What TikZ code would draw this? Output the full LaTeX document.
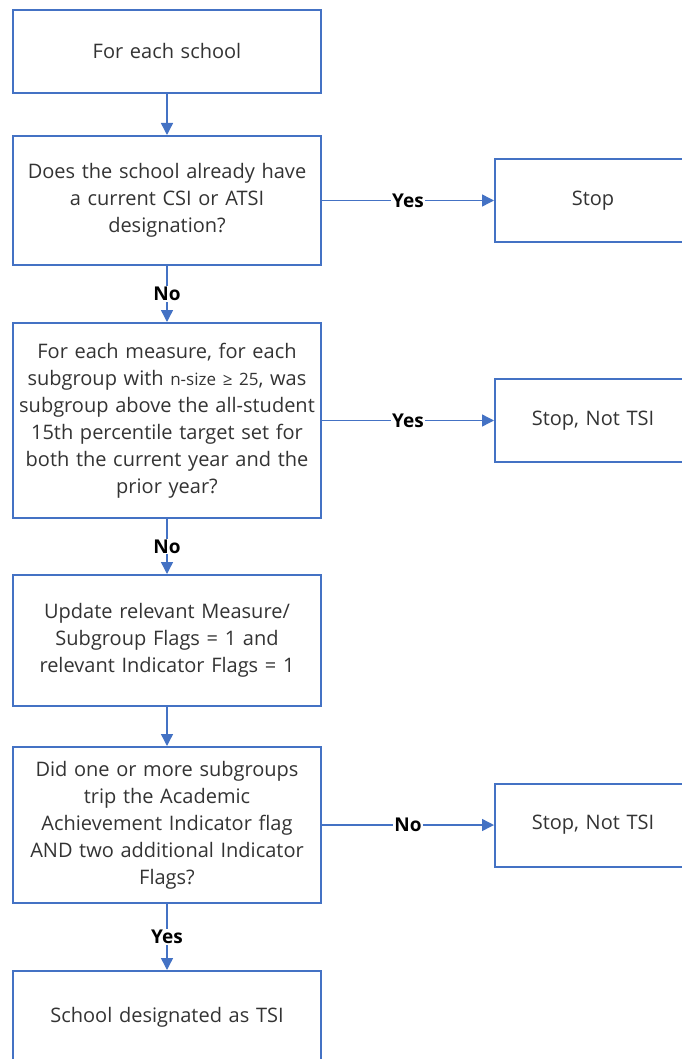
\documentclass[tikz,border=0pt]{standalone}
\usepackage{fontspec}
\setmainfont{Open Sans}
\usepackage{xcolor}
\usetikzlibrary{positioning,arrows.meta}
\definecolor{flowblue}{HTML}{4472C4}
\definecolor{flowtext}{HTML}{333333}

\begin{document}
\begin{tikzpicture}[
    x=1pt, y=-1pt,
    every node/.style={align=center},
    stepbox/.style={rectangle, draw=flowblue, line width=2pt, text=flowtext, inner sep=1pt, minimum width=308pt, text width=304pt, font=\fontsize{20}{27}\selectfont},
    stopbox/.style={rectangle, draw=flowblue, line width=2pt, text=flowtext, inner sep=1pt, minimum width=196pt, text width=190pt, minimum height=83pt, font=\fontsize{20}{27}\selectfont},
    arrow/.style={-{Triangle[length=12pt, width=12pt]}, line width=1.4pt, color=flowblue},
    choice/.style={fill=white, inner sep=1pt, text=black, font=\fontsize{19}{22}\selectfont\bfseries}
]
\useasboundingbox (0,0) rectangle (681,1059);

% Main column
\node[stepbox, minimum height=83pt] (start) at (167,51.5) {For each school};
\node[stepbox, minimum height=129pt, below=41pt of start] (current) {Does the school already have\\a current CSI or ATSI\\designation?};
\node[stepbox, minimum height=195pt, below=56pt of current] (measure) {For each measure, for each\\subgroup with {\fontsize{17}{27}\selectfont n-size ≥ 25}, was\\subgroup above the all-student\\15th percentile target set for\\both the current year and the\\prior year?};
\node[stepbox, minimum height=131pt, below=55pt of measure] (update) {Update relevant Measure/\\Subgroup Flags = 1 and\\relevant Indicator Flags = 1};
\node[stepbox, minimum height=156pt, below=39pt of update] (trip) {Did one or more subgroups\\trip the Academic\\Achievement Indicator flag\\AND two additional Indicator\\Flags?};
\node[stepbox, minimum height=92pt, below=66pt of trip] (tsi) {School designated as TSI};

% Stop boxes
\node[stopbox, right=172pt of current] (stop) {Stop};
\node[stopbox, right=172pt of measure] (nottsi) {Stop, Not TSI};
\node[stopbox, right=172pt of trip] (nottsitwo) {Stop, Not TSI};

% Arrows
\draw[arrow] (start) -- (current);
\draw[arrow] (current) -- (measure) node[midway, choice] {No};
\draw[arrow] (measure) -- (update) node[midway, choice] {No};
\draw[arrow] (update) -- (trip);
\draw[arrow] (trip) -- (tsi) node[midway, choice] {Yes};
\draw[arrow] (current) -- (stop) node[midway, choice] {Yes};
\draw[arrow] (measure) -- (nottsi) node[midway, choice] {Yes};
\draw[arrow] (trip) -- (nottsitwo) node[midway, choice] {No};

\end{tikzpicture}
\end{document}
